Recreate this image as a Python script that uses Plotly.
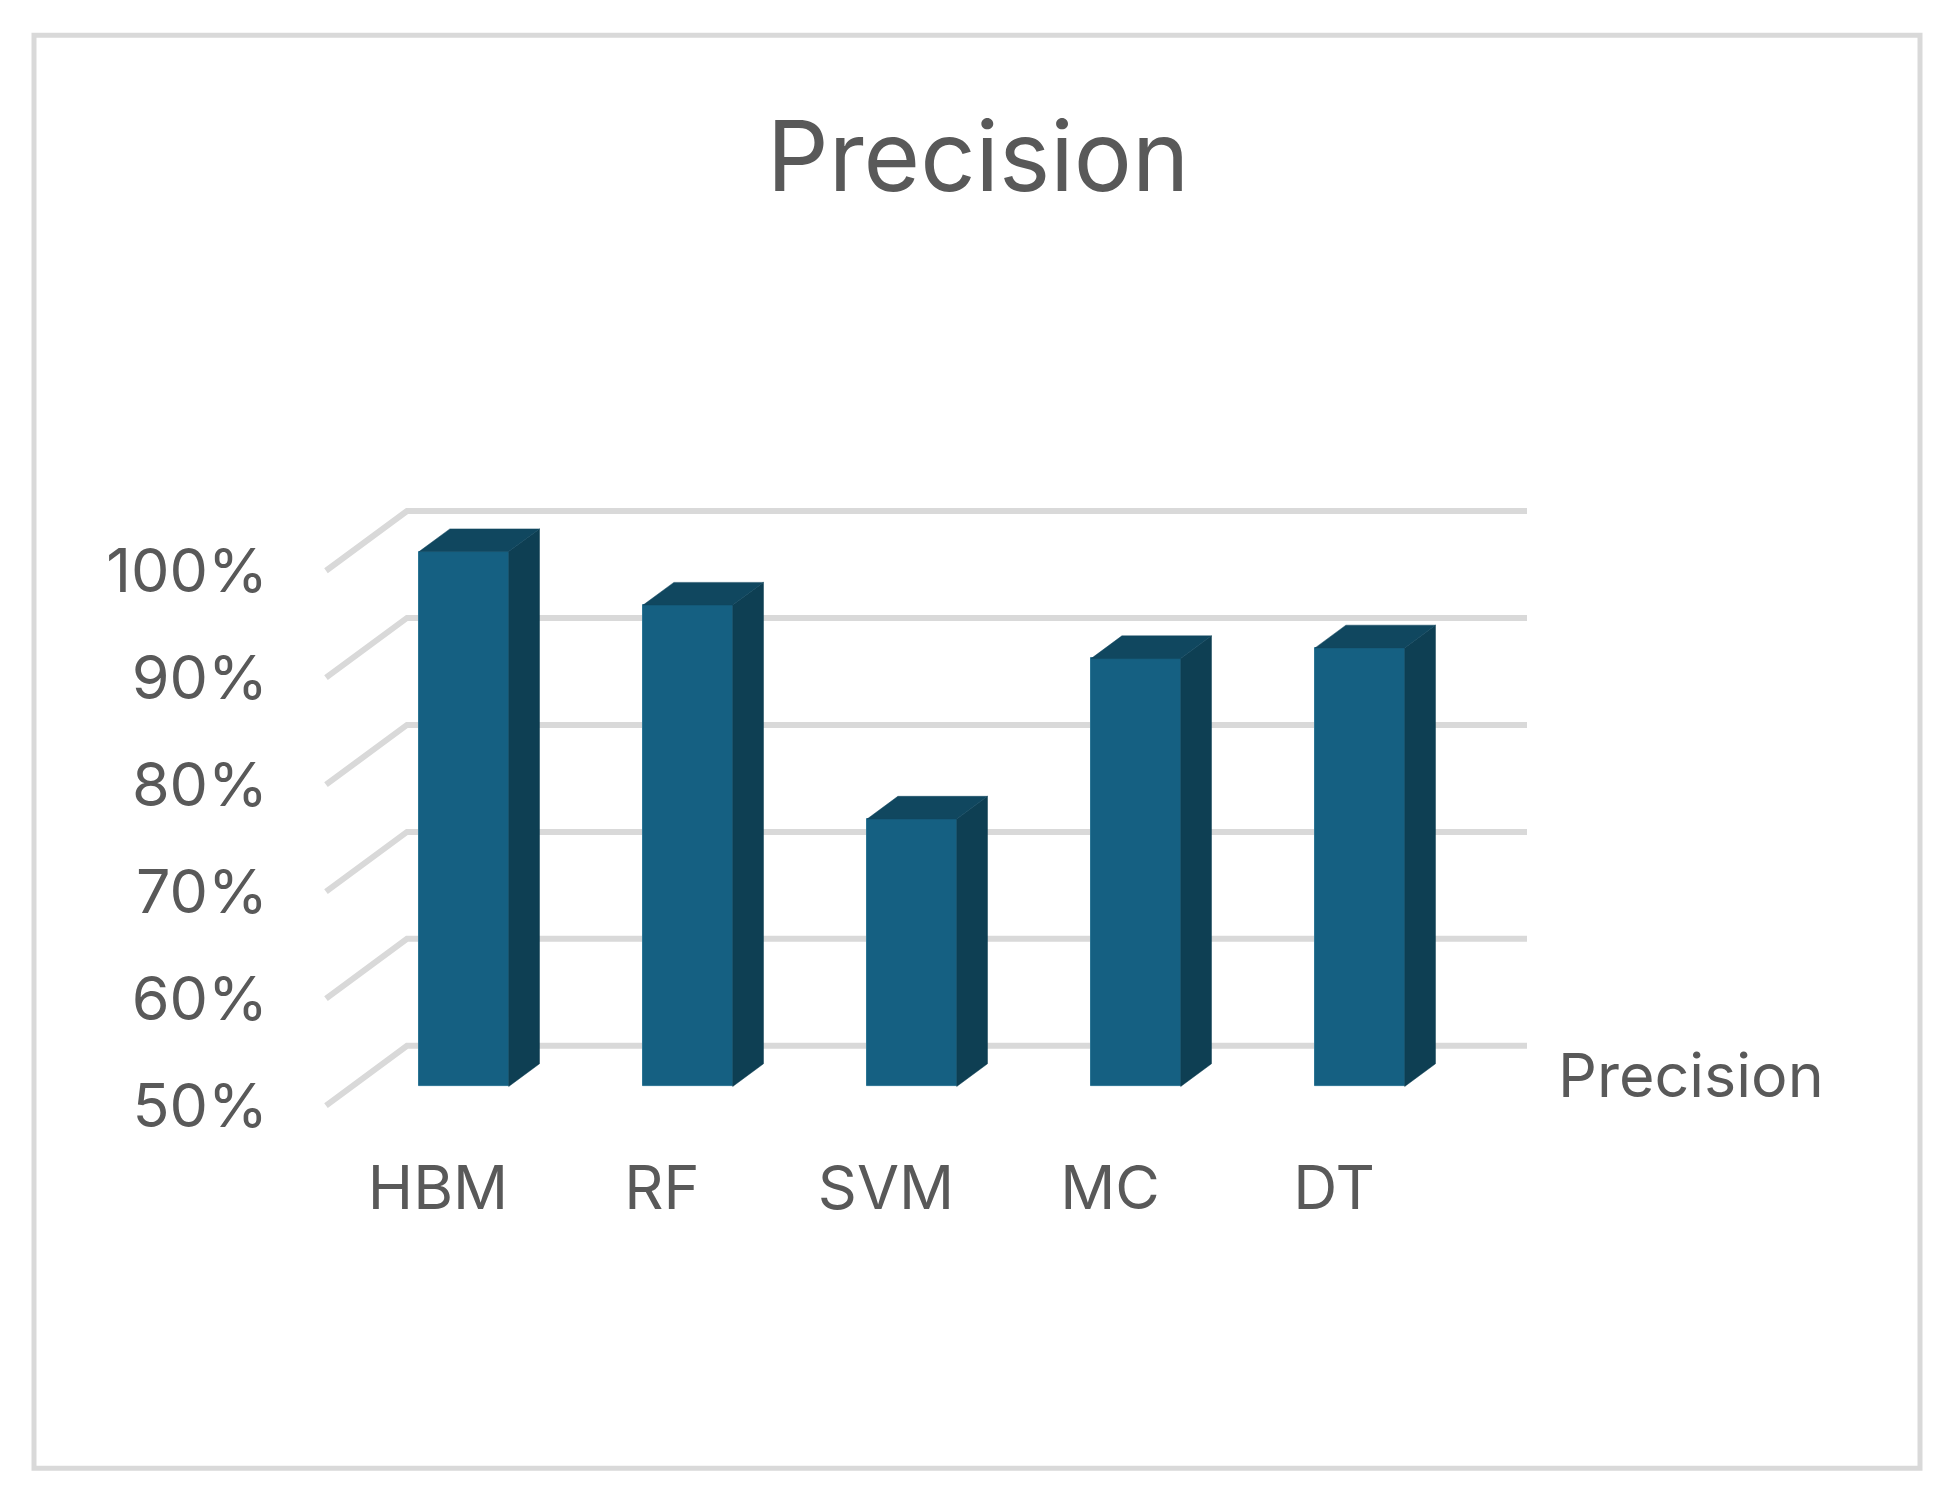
import plotly.graph_objects as go

# ---- data ----
categories = ["HBM", "RF", "SVM", "MC", "DT"]
precision = [100, 95, 75, 90, 91]
tick_values = [50, 60, 70, 80, 90, 100]
tick_labels = ["50%", "60%", "70%", "80%", "90%", "100%"]
series_name = "Precision"

# ---- 3D projection parameters (in data units) ----
DX = 0.3616      # horizontal shift of the back wall (category units)
DY = 5.587       # vertical shift of the back wall (value units)
BAR_D0 = 0.32    # depth of bar front face (fraction of full depth)
BAR_DD = 0.38    # bar depth (fraction of full depth)
BAR_W = 0.40
BASE = 50

FRONT = "#156082"
SIDE = "#0E3F53"
TOP = "#10475F"
GRID = "#D9D9D9"
TEXT = "#595959"
FONT = "Inter"

n = len(categories)
xs = list(range(n))
XR = [-0.7723, 5.009]
YR = [47.207, 108.66]

fig = go.Figure()

# gridlines: front diagonal + back wall horizontal (bottom layer axes)
gx, gy = [], []
for v in tick_values:
    gx += [-0.5, -0.5 + DX, (n - 0.5) + DX, None]
    gy += [v, v + DY, v + DY, None]
fig.add_trace(go.Scatter(x=gx, y=gy, mode="lines",
                         line=dict(color=GRID, width=6),
                         hoverinfo="skip", showlegend=False))

# bar geometry
fdx, fdy = BAR_D0 * DX, BAR_D0 * DY
ddx, ddy = BAR_DD * DX, BAR_DD * DY

# front faces (overlay axes, drawn above gridlines)
fig.add_trace(go.Bar(x=[x + fdx for x in xs], y=[v - BASE for v in precision],
                     base=BASE + fdy, width=BAR_W,
                     marker=dict(color=FRONT, line=dict(color="#2C7594", width=1)),
                     name=series_name, hoverinfo="skip", showlegend=False,
                     xaxis="x2", yaxis="y2"))

# side faces
sx, sy = [], []
for x, v in zip(xs, precision):
    xr = x + fdx + BAR_W / 2
    b = BASE + fdy
    t = v + fdy
    sx += [xr, xr, xr + ddx, xr + ddx, xr, None]
    sy += [b, t, t + ddy, b + ddy, b, None]
fig.add_trace(go.Scatter(x=sx, y=sy, mode="lines", fill="toself",
                         fillcolor=SIDE, line=dict(color=SIDE, width=0.5),
                         hoverinfo="skip", showlegend=False,
                         xaxis="x2", yaxis="y2"))

# top faces
tx, ty = [], []
for x, v in zip(xs, precision):
    xl = x + fdx - BAR_W / 2
    xr = x + fdx + BAR_W / 2
    t = v + fdy
    tx += [xl, xr, xr + ddx, xl + ddx, xl, None]
    ty += [t, t, t + ddy, t + ddy, t, None]
fig.add_trace(go.Scatter(x=tx, y=ty, mode="lines", fill="toself",
                         fillcolor=TOP, line=dict(color=TOP, width=0.5),
                         hoverinfo="skip", showlegend=False,
                         xaxis="x2", yaxis="y2"))

W, H = 1949, 1510
XD = [265 / W, 1560 / W]
YD = [1 - 1140 / H, 1 - 480 / H]
fig.update_layout(
    width=W, height=H,
    margin=dict(l=0, r=0, t=0, b=0),
    paper_bgcolor="white", plot_bgcolor="rgba(0,0,0,0)",
    font=dict(family=FONT, color=TEXT),
    showlegend=False,
    bargap=0,
    title=dict(text="Precision", x=978 / W, xanchor="center",
               y=1 - 157 / H, yanchor="middle",
               font=dict(size=97, color=TEXT, family=FONT)),
    xaxis=dict(domain=XD, range=XR,
               tickmode="array", tickvals=xs, ticktext=categories,
               showgrid=False, zeroline=False, showline=False, ticks="",
               tickfont=dict(size=61, color=TEXT, family=FONT),
               ticklabelstandoff=12, fixedrange=True),
    yaxis=dict(domain=YD, range=YR,
               tickmode="array", tickvals=tick_values, ticktext=tick_labels,
               showgrid=False, zeroline=False, showline=False, ticks="",
               tickfont=dict(size=61, color=TEXT, family=FONT),
               ticklabelstandoff=-4, fixedrange=True),
    xaxis2=dict(domain=XD, range=XR, overlaying="x", visible=False,
                fixedrange=True),
    yaxis2=dict(domain=YD, range=YR, overlaying="y", visible=False,
                fixedrange=True),
    annotations=[dict(text=series_name, xref="paper", yref="paper",
                      x=1556 / W, y=1 - 1079 / H, xanchor="left", yanchor="middle",
                      showarrow=False, font=dict(size=61, color=TEXT, family=FONT))],
    shapes=[dict(type="rect", xref="paper", yref="paper",
                 x0=34 / W, x1=1920 / W, y0=1 - 1474 / H, y1=1 - 35.5 / H,
                 line=dict(color=GRID, width=5))],
)

fig.write_html("out.html", config={"displayModeBar": False},
               post_script="document.body.style.margin='0';")
